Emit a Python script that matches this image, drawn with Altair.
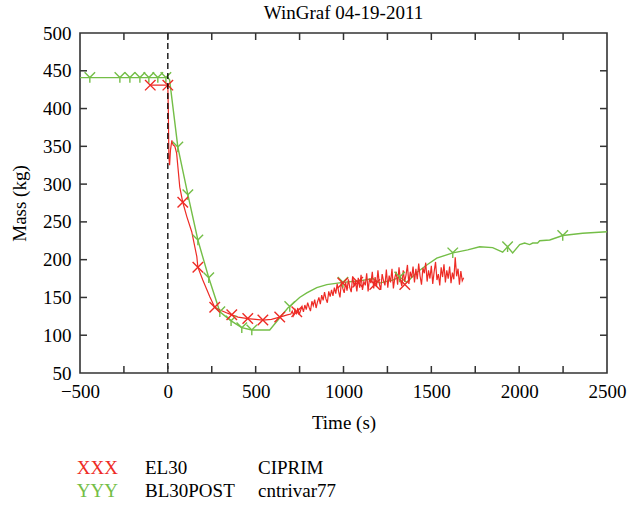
import altair as alt
import pandas as pd

# ---------------- data ----------------
# BL30POST / cntrivar77 (green)
g_t = [-500, -444, -273, -216, -159, -108, -57, -11, 0, 10, 57, 114, 171, 233, 296,
       360, 421, 478, 580, 683, 694, 750, 791, 848, 905, 997, 1093, 1167, 1206, 1240,
       1280, 1320, 1360, 1417, 1474, 1531, 1622, 1645, 1707, 1775, 1849, 1906, 1934,
       1963, 2003, 2031, 2060, 2077, 2105, 2117, 2174, 2248, 2361, 2430, 2500]
g_m = [441, 441, 441, 441, 441, 441, 441, 441, 441, 438, 349, 286, 226, 176, 131,
       119, 110, 107, 107, 136, 138, 150, 156, 163, 167, 170, 172, 175, 169, 171,
       173, 177, 170, 183, 193, 202, 209, 210, 213, 217, 216, 210, 217,
       209, 220, 222, 220, 222, 222, 225, 226, 232, 235, 236, 237]
g_mark_t = [-444, -273, -216, -159, -108, -57, -11, 57, 114, 171, 233, 296, 360,
            421, 478, 694, 997, 1320, 1622, 1934, 2248]
g_mark_m = [441, 441, 441, 441, 441, 441, 441, 349, 286, 226, 176, 131, 119,
            110, 107, 138, 170, 177, 209, 217, 232]

# EL30 / CIPRIM (red): smooth early part
r_t = [-100, 0, 3, 6, 10, 15, 23, 30, 40, 50, 68, 85, 108, 136, 165, 171, 199, 239,
       267, 300, 330, 364, 400, 455, 500, 541, 590, 637, 680]
r_m = [431, 431, 395, 335, 325, 345, 358, 352, 350, 341, 296, 276, 257, 237, 204, 190,
       173, 151, 137, 133, 130, 127, 124, 122, 121, 120, 121, 124, 127]
# EL30 noisy part
rn_t = [700, 708, 716, 724, 732, 740, 748, 756, 764, 772,
        780, 788, 796, 804, 812, 820, 828, 836, 844, 852,
        860, 868, 876, 884, 892, 900, 908, 916, 924, 932,
        940, 948, 956, 964, 972, 980, 988, 996, 1004, 1012,
        1020, 1028, 1036, 1044, 1052, 1060, 1068, 1076, 1084, 1092,
        1100, 1108, 1116, 1124, 1132, 1140, 1148, 1156, 1164, 1172,
        1180, 1188, 1196, 1204, 1212, 1220, 1228, 1236, 1244, 1252,
        1260, 1268, 1276, 1284, 1292, 1300, 1308, 1316, 1324, 1332,
        1340, 1348, 1356, 1364, 1372, 1380, 1388, 1396, 1404, 1412,
        1420, 1428, 1436, 1444, 1452, 1460, 1468, 1476, 1484, 1492,
        1500, 1508, 1516, 1524, 1532, 1540, 1548, 1556, 1564, 1572,
        1580, 1588, 1596, 1604, 1612, 1620, 1628, 1636, 1644, 1652,
        1660, 1668, 1676, 1684]
rn_m = [128, 132, 126, 134, 129, 136, 127, 133, 138, 131,
        140, 134, 143, 137, 132, 145, 139, 147, 136, 144,
        150, 141, 153, 146, 157, 148, 143, 158, 151, 160,
        152, 163, 155, 168, 158, 150, 171, 162, 156, 170,
        159, 174, 163, 157, 178, 165, 172, 158, 176, 163,
        180, 160, 171, 166, 182, 158, 175, 169, 184, 162,
        177, 164, 186, 168, 160, 181, 172, 166, 187, 163,
        179, 170, 188, 162, 176, 184, 167, 190, 173, 165,
        186, 171, 180, 193, 168, 184, 176, 191, 170, 188,
        174, 195, 178, 167, 189, 182, 196, 171, 186, 175,
        192, 168, 184, 197, 173, 181, 166, 190, 177, 194,
        170, 186, 175, 191, 169, 183, 174, 203, 178, 188,
        167, 185, 172, 176]
r_mark_t = [-100, 0, 85, 171, 267, 364, 455, 541, 637, 734, 996, 1081, 1178, 1349]
r_mark_m = [431, 431, 276, 190, 137, 127, 122, 120, 124, 131, 169, 170, 167, 167]

x_labels = [-500, 0, 500, 1000, 1500, 2000, 2500]
y_labels = [50, 100, 150, 200, 250, 300, 350, 400, 450, 500]
x_minor = [-250, 0, 250, 500, 750, 1000, 1250, 1500, 1750, 2000, 2250]
y_minor = [100, 150, 200, 250, 300, 350, 400, 450]

legend_sym = ["XXX", "YYY"]
legend_name = ["EL30", "BL30POST"]
legend_var = ["CIPRIM", "cntrivar77"]

# ---------------- chart ----------------
W, H = 527, 340
FONT = "Liberation Serif"
RED = "#ee2b25"
GREEN = "#74be47"
X_PATH = "M-1,-1L1,1M-1,1L1,-1"
Y_PATH = "M-1,-1L0,0L1,-1M0,0L0,1"

xs = alt.Scale(domain=[-500, 2500], nice=False, zero=False)
ys = alt.Scale(domain=[50, 500], nice=False, zero=False)
xaxis = alt.Axis(values=x_labels, title="Time (s)", labelFlush=False, labelOverlap=False,
                 labelPadding=9, titlePadding=12, format="d")
yaxis = alt.Axis(values=y_labels, title="Mass (kg)", labelFlush=False, labelOverlap=False,
                 labelPadding=9, titlePadding=13, format="d")


def X():
    return alt.X("t:Q", scale=xs, axis=xaxis)


def Y():
    return alt.Y("m:Q", scale=ys, axis=yaxis)


green_df = pd.DataFrame({"t": g_t, "m": g_m})
green_mk = pd.DataFrame({"t": g_mark_t, "m": g_mark_m})
red_df = pd.DataFrame({"t": r_t + rn_t, "m": r_m + rn_m})
red_mk = pd.DataFrame({"t": r_mark_t, "m": r_mark_m})

green_line = alt.Chart(green_df).mark_line(color=GREEN, strokeWidth=1.4).encode(
    x=X(), y=Y(), order="t:Q")
red_line = alt.Chart(red_df).mark_line(color=RED, strokeWidth=1.2).encode(
    x=X(), y=Y(), order="t:Q")
green_pts = alt.Chart(green_mk).mark_point(shape=Y_PATH, filled=False, size=110,
                                          color=GREEN, strokeWidth=1.4, opacity=1).encode(
    x=X(), y=Y())
red_pts = alt.Chart(red_mk).mark_point(shape=X_PATH, filled=False, size=110,
                                      color=RED, strokeWidth=1.4, opacity=1).encode(
    x=X(), y=Y())

zero_line = alt.Chart(pd.DataFrame({"t": [0]})).mark_rule(
    color="black", strokeDash=[6, 4], strokeWidth=1.3).encode(
    x=X(), y=alt.value(0), y2=alt.value(H))

xt = pd.DataFrame({"t": x_minor})
yt = pd.DataFrame({"m": y_minor})
TK = "#333333"
tick_b = alt.Chart(xt).mark_rule(color=TK, strokeWidth=1.5).encode(
    x=X(), y=alt.value(H), y2=alt.value(H - 7))
tick_t = alt.Chart(xt).mark_rule(color=TK, strokeWidth=1.5).encode(
    x=X(), y=alt.value(0), y2=alt.value(7))
tick_l = alt.Chart(yt).mark_rule(color=TK, strokeWidth=1.5).encode(
    y=Y(), x=alt.value(0), x2=alt.value(7))
tick_r = alt.Chart(yt).mark_rule(color=TK, strokeWidth=1.5).encode(
    y=Y(), x=alt.value(W), x2=alt.value(W - 7))

one = pd.DataFrame({"k": [0]})


def txt(s, x, y, color, align="left"):
    return alt.Chart(one).mark_text(text=s, font=FONT, fontSize=19, color=color,
                                    align=align, baseline="alphabetic").encode(
        x=alt.value(x), y=alt.value(y))


leg = [
    txt(legend_sym[0], 38, 441, RED, "right"),
    txt(legend_name[0], 65, 441, "black"),
    txt(legend_var[0], 178, 441, "black"),
    txt(legend_sym[1], 38, 464, GREEN, "right"),
    txt(legend_name[1], 65, 464, "black"),
    txt(legend_var[1], 178, 464, "black"),
]

chart = alt.layer(
    green_line, red_line, green_pts, red_pts, zero_line,
    tick_b, tick_t, tick_l, tick_r, *leg
).properties(
    width=W, height=H,
    title=alt.Title("WinGraf 04-19-2011"),
    padding={"left": 80, "top": 33, "right": 23, "bottom": 133},
    autosize=alt.AutoSizeParams(type="none"),
).configure_view(
    stroke="#333333", strokeWidth=1.6
).configure_axis(
    labelFont=FONT, titleFont=FONT, labelFontSize=19, titleFontSize=19,
    titleFontWeight="normal", labelColor="black", titleColor="black",
    grid=False, domain=False, ticks=False
).configure_title(
    font=FONT, fontSize=19, fontWeight="normal", color="black", anchor="middle", offset=1
)

chart.save("out.html", embed_options={"renderer": "svg", "actions": False})
